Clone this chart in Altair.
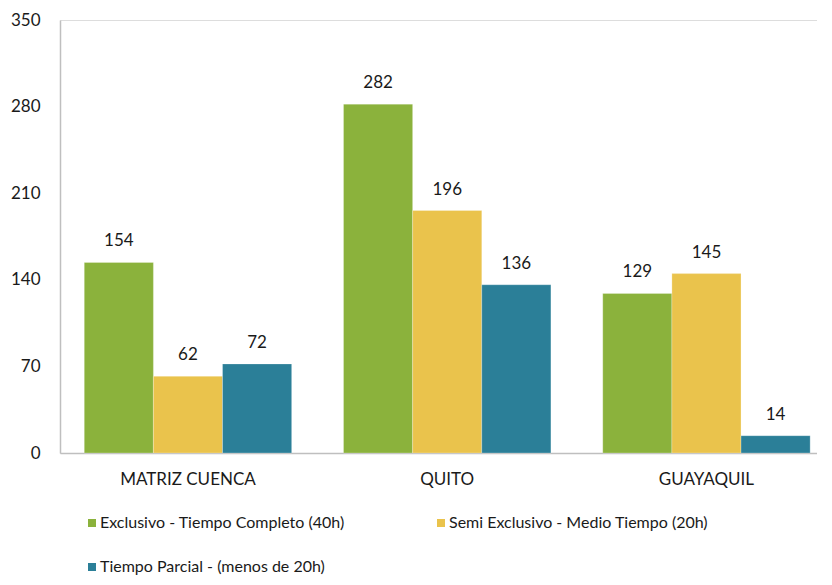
import altair as alt
import pandas as pd

sedes = ["MATRIZ CUENCA", "QUITO", "GUAYAQUIL"]
series = ["Exclusivo - Tiempo Completo (40h)",
          "Semi Exclusivo - Medio Tiempo (20h)",
          "Tiempo Parcial - (menos de 20h)"]
exclusivo = [154, 282, 129]
semi = [62, 196, 145]
parcial = [72, 136, 14]
colors = ["#8bb23c", "#eac34c", "#2b7f98"]

rows = []
for i, s in enumerate(sedes):
    for name, vals in zip(series, [exclusivo, semi, parcial]):
        rows.append({"sede": s, "serie": name, "valor": vals[i]})
df = pd.DataFrame(rows)

FONT = "Lato"
TXT = "#1a1a1a"

base = alt.Chart(df).encode(
    x=alt.X("sede:N", sort=sedes, title=None,
            scale=alt.Scale(paddingInner=0.2, paddingOuter=0.06, align=0.78),
            axis=alt.Axis(labelAngle=0, labelFontSize=17, labelColor=TXT,
                          labelFont=FONT, labelPadding=18, ticks=False,
                          domainColor="#bfbfbf", domainWidth=1.5)),
    xOffset=alt.XOffset("serie:N", sort=series, scale=alt.Scale(paddingInner=0, paddingOuter=0)),
)

bars = base.mark_bar(stroke="#ffffff", strokeOpacity=0.25, strokeWidth=1).encode(
    y=alt.Y("valor:Q", title=None,
            scale=alt.Scale(domain=[0, 350], nice=False),
            axis=alt.Axis(values=[0, 70, 140, 210, 280, 350], grid=False, ticks=False,
                          labelFontSize=17, labelColor=TXT, labelFont=FONT,
                          labelPadding=20, domainColor="#bfbfbf", domainWidth=1.5)),
    color=alt.Color("serie:N", sort=series,
                    scale=alt.Scale(domain=series, range=colors),
                    legend=alt.Legend(title=None, orient="none", legendX=24, legendY=495,
                                      columns=2, direction="horizontal",
                                      symbolType="square", symbolSize=64,
                                      labelFontSize=16, labelFont=FONT, labelColor=TXT,
                                      labelLimit=400,
                                      columnPadding=88, rowPadding=28, labelOffset=0,
                                      symbolStrokeWidth=0)),
)

labels = base.mark_text(dy=-12, fontSize=17, font=FONT, color=TXT, baseline="bottom").encode(
    y=alt.Y("valor:Q"),
    text=alt.Text("valor:Q"),
)

chart = (bars + labels).properties(
    width=757, height=433,
    padding={"left": 2, "top": 3, "right": 0, "bottom": 0},
).configure_view(stroke=None).configure(background="#ffffff")

chart.save("out.html", embed_options={"renderer": "svg", "actions": False})
